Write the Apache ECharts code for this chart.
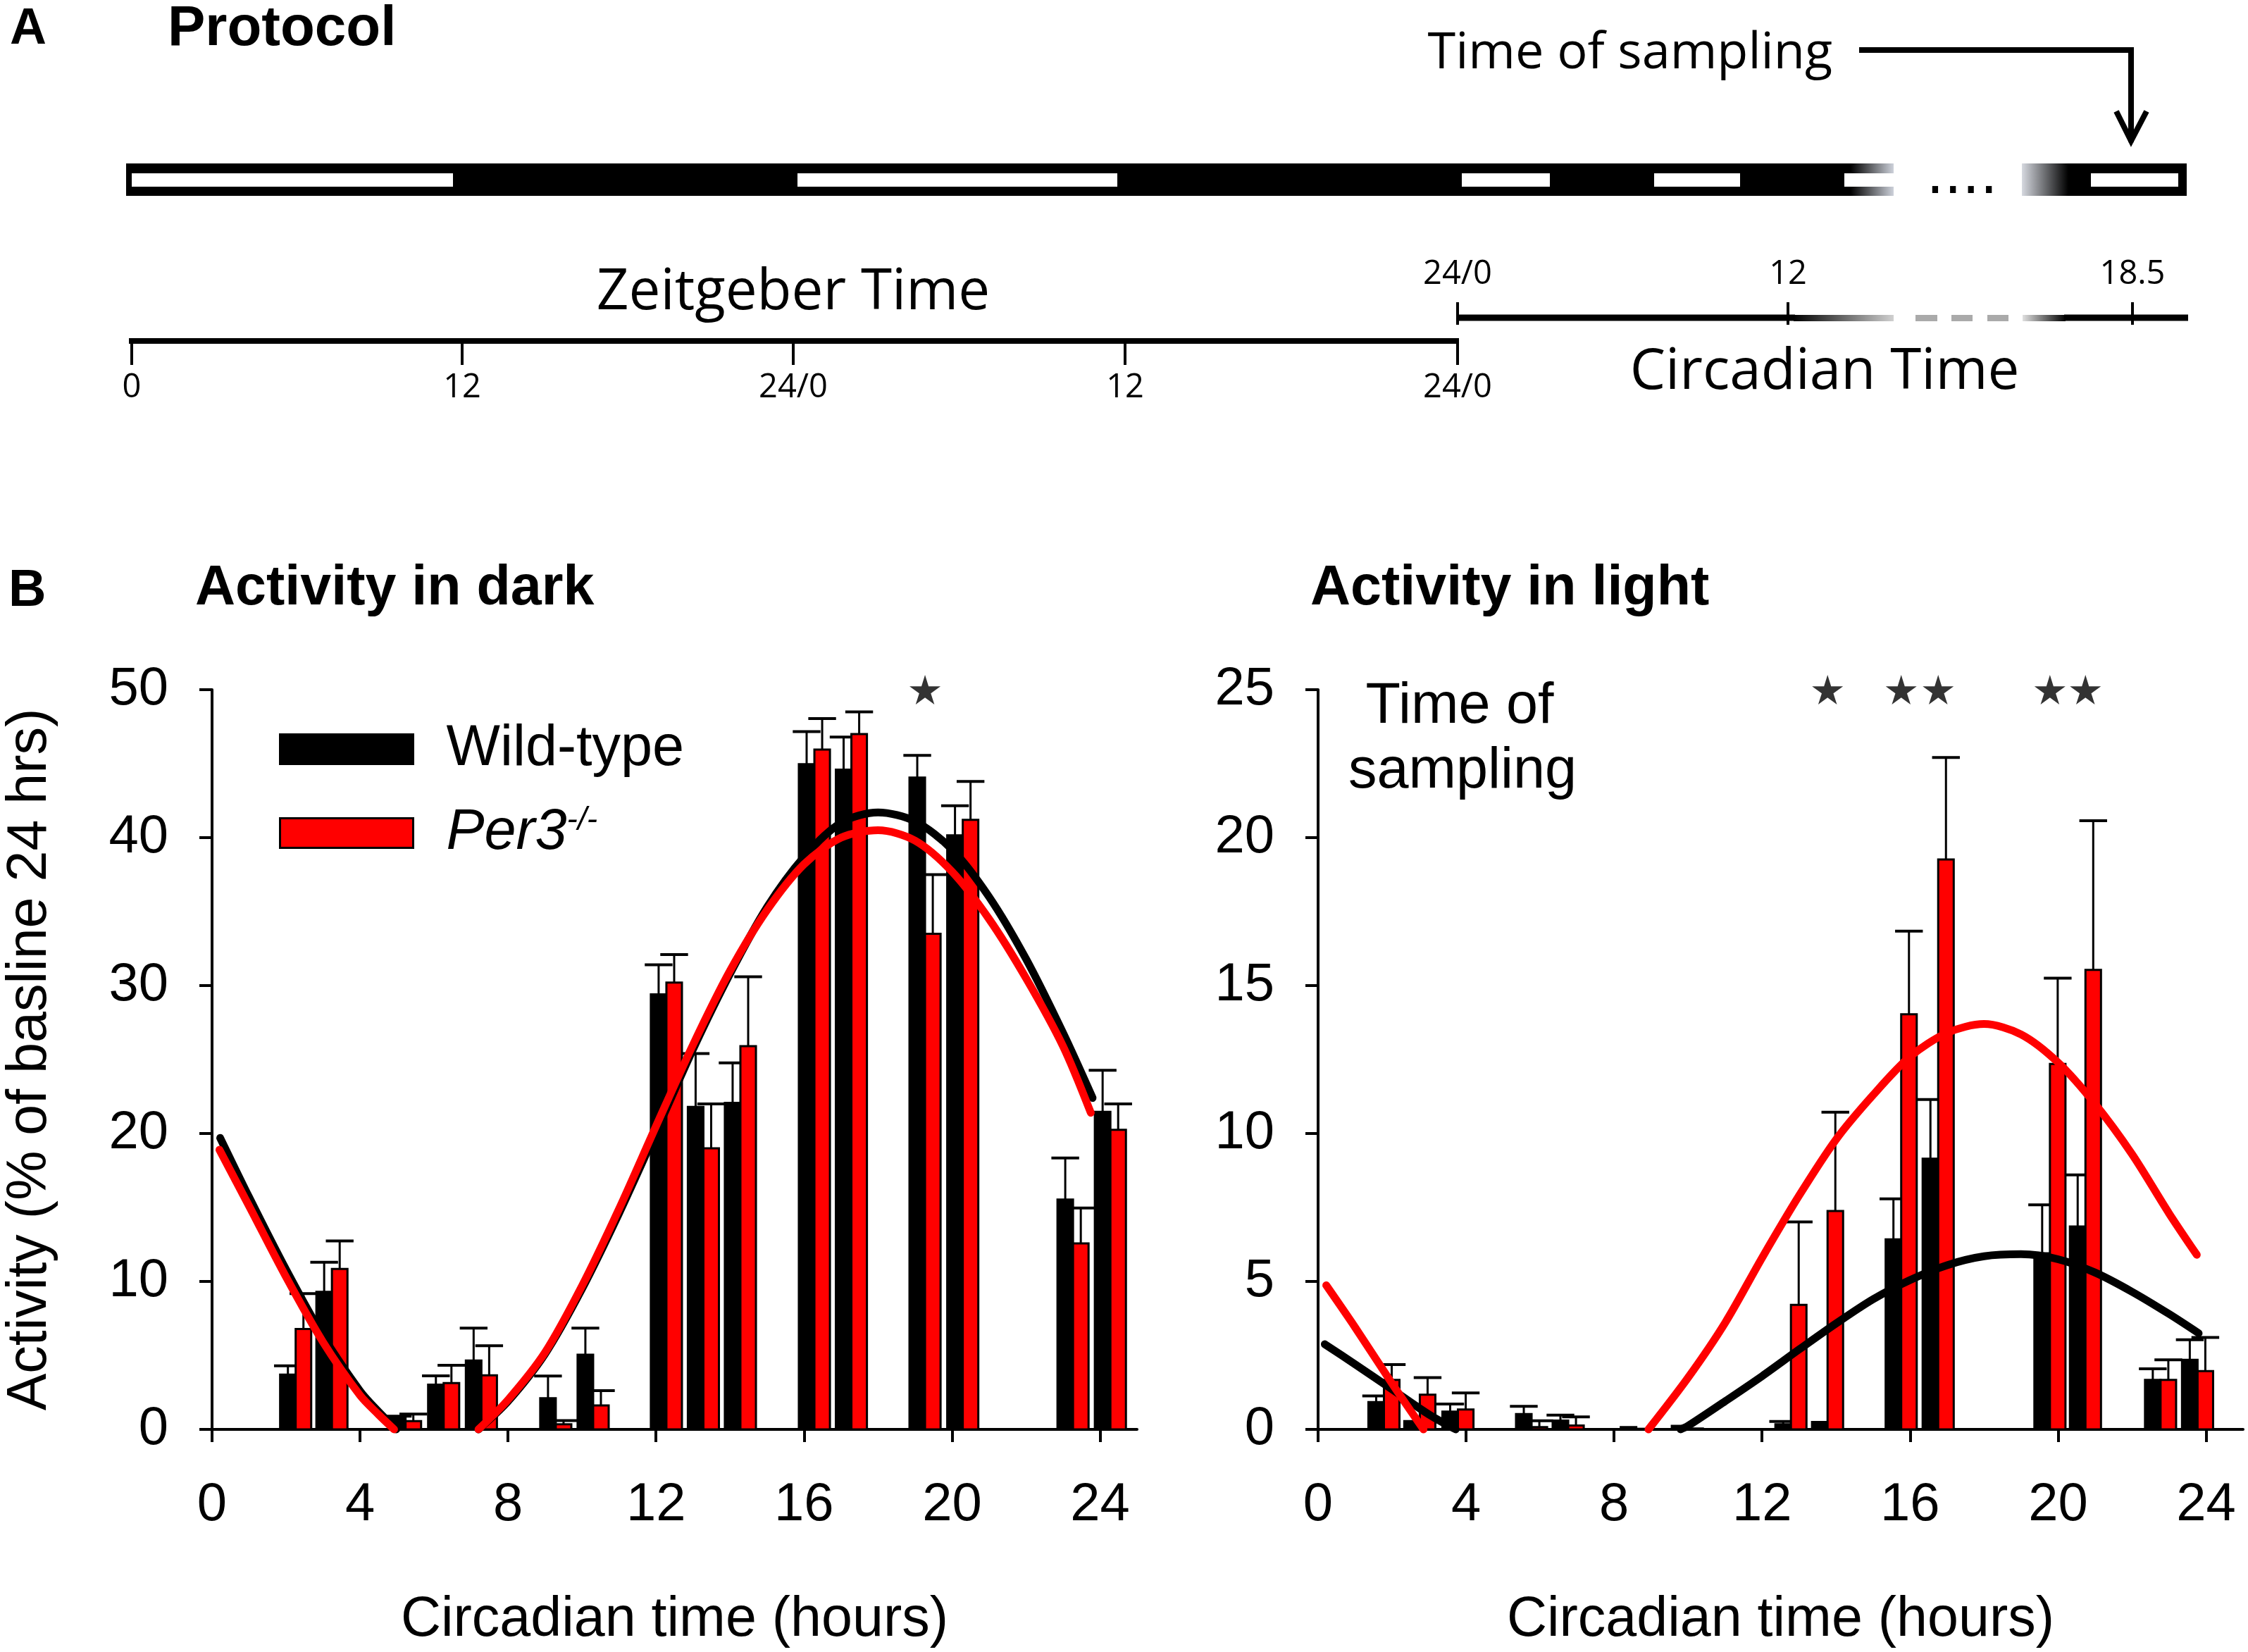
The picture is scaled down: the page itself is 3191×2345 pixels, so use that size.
<!DOCTYPE html>
<html>
<head>
<meta charset="utf-8">
<script src="https://cdn.jsdelivr.net/npm/echarts@6/dist/echarts.min.js"></script>
<style>
  html, body { margin: 0; background: #fff; }
  #chart { width: 3191px; height: 2345px; }
</style>
</head>
<body>
<div id="chart"></div>
<script>
// ---- data ----
const xTicks = [0, 4, 8, 12, 16, 20, 24];

// Activity in dark (group centre in circadian hours, % of baseline, upper SEM)
const darkHours = [2.26, 3.24, 5.23, 6.26, 7.28, 9.29, 10.3, 12.28, 13.28, 14.28, 16.28, 17.28, 19.27, 20.29, 23.27, 24.28];
const darkWt    = [3.7, 9.3, 0.79, 3.02, 4.65, 2.11, 5.05, 29.4, 21.8, 22.07, 44.97, 44.6, 44.06, 40.15, 15.54, 21.47];
const darkWtSem = [0.6, 2.0, 0.1, 0.6, 2.2, 1.5, 1.8, 2.0, 3.6, 2.7, 2.2, 2.2, 1.5, 2.0, 2.8, 2.8];
const darkKo    = [6.78, 10.84, 0.56, 3.13, 3.65, 0.35, 1.62, 30.2, 19.0, 25.9, 45.95, 47.0, 33.5, 41.2, 12.57, 20.25];
const darkKoSem = [2.4, 1.9, 0.47, 1.2, 2.0, 0.25, 1.0, 1.9, 3.0, 4.7, 2.1, 1.5, 4.0, 2.6, 2.4, 1.75];

// Activity in light
const lightHours = [1.78, 2.75, 3.78, 5.77, 6.76, 8.6, 9.98, 12.78, 13.77, 15.76, 16.76, 19.78, 20.74, 22.77, 23.77];
const lightWt    = [0.92, 0.28, 0.6, 0.52, 0.3, 0.08, 0.12, 0.17, 0.25, 6.42, 9.15, 5.95, 6.86, 1.67, 2.35];
const lightWtSem = [0.21, 0, 0.26, 0.26, 0.18, 0, 0, 0.1, 0, 1.37, 2.0, 1.64, 1.74, 0.38, 0.68];
const lightKo    = [1.67, 1.17, 0.67, 0.08, 0.13, 0.02, 0.03, 4.21, 7.38, 14.03, 19.26, 12.35, 15.53, 1.67, 1.97];
const lightKoSem = [0.52, 0.58, 0.56, 0.21, 0.29, 0, 0, 2.8, 3.34, 2.81, 3.45, 2.9, 5.04, 0.68, 1.14];

// fitted curves (null = part cut off below zero)
const darkWtFit = [[0.22, 19.7], [1, 15.7], [2, 10.8], [3, 6.3], [4, 2.6], [4.5, 1.2], [4.98, 0], null,
  [7.2, 0], [8, 1.9], [9, 5.1], [10, 9.5], [11, 14.6], [12, 20.1], [13, 25.7], [14, 30.8], [15, 35.3],
  [16, 38.7], [17, 41.0], [18, 41.7], [19, 41.1], [20, 39.2], [21, 36.0], [22, 31.8], [23, 26.8], [23.8, 22.4]];
const darkKoFit = [[0.2, 18.9], [1, 15.1], [2, 10.3], [3, 5.9], [4, 2.3], [4.5, 1.0], [4.92, 0], null,
  [7.2, 0], [8, 2.0], [9, 5.2], [10, 9.7], [11, 14.9], [12, 20.5], [13, 26.0], [14, 31.0], [15, 35.1],
  [16, 38.2], [17, 40.0], [18, 40.5], [19, 39.8], [20, 37.7], [21, 34.5], [22, 30.5], [23, 25.9], [23.75, 21.4]];
const lightWtFit = [[0.18, 2.88], [1, 2.2], [2, 1.35], [3, 0.5], [3.72, 0], null,
  [9.8, 0], [10, 0.12], [11, 0.95], [12, 1.8], [13, 2.7], [14, 3.58], [15, 4.4], [16, 5.05], [17, 5.55],
  [18, 5.85], [19, 5.92], [20, 5.75], [21, 5.3], [22, 4.65], [23, 3.9], [23.8, 3.25]];
const lightKoFit = [[0.22, 4.87], [1, 3.45], [2, 1.55], [2.85, 0], null,
  [8.93, 0], [10, 1.75], [11, 3.6], [12, 5.8], [13, 7.9], [14, 9.8], [15, 11.3], [16, 12.6], [17, 13.4],
  [18, 13.7], [19, 13.35], [20, 12.4], [21, 11.0], [22, 9.3], [23, 7.3], [23.75, 5.9]];

// significance stars
const darkStars = [19.27];
const lightStars = [13.77, 15.76, 16.76, 19.78, 20.74];

// protocol schematic tick labels
const zeitgeberLabels = ['0', '12', '24/0', '12', '24/0'];
const circadianLabels = ['24/0', '12', '18.5'];

// ---- helpers ----
const BAR_W = 0.42;   // hours
const CAP_W = 0.75;   // hours
const FONT = 'Liberation Sans, Arial, sans-serif';
const FONT_A = 'Open Sans, Noto Sans, sans-serif';
const RED = '#ff0000';

function barSeries(name, xi, hours, vals, sems, color, side) {
  return {
    type: 'custom',
    name: name,
    xAxisIndex: xi,
    yAxisIndex: xi,
    itemStyle: { color: color },
    clip: false,
    encode: { x: 0, y: 1 },
    data: hours.map((h, i) => [h, vals[i], sems[i]]),
    renderItem: function (params, api) {
      const h = api.value(0), v = api.value(1), e = api.value(2);
      const x0 = side === 'left' ? h - BAR_W : h;
      const xc = x0 + BAR_W / 2;
      const pTop = api.coord([x0, v]);
      const pBot = api.coord([x0 + BAR_W, 0]);
      const cTop = api.coord([xc, v]);
      const eTop = api.coord([xc, v + e]);
      const capW = api.size([CAP_W, 0])[0];
      const children = [];
      if (e > 0) {
        children.push({ type: 'line', shape: { x1: cTop[0], y1: cTop[1], x2: eTop[0], y2: eTop[1] },
          style: { stroke: '#000', lineWidth: 3 } });
        children.push({ type: 'line', shape: { x1: eTop[0] - capW / 2, y1: eTop[1], x2: eTop[0] + capW / 2, y2: eTop[1] },
          style: { stroke: '#000', lineWidth: 4 } });
      }
      children.push({ type: 'rect',
        shape: { x: pTop[0], y: pTop[1], width: pBot[0] - pTop[0], height: pBot[1] - pTop[1] },
        style: { fill: color, stroke: '#000', lineWidth: 3 } });
      return { type: 'group', children: children };
    }
  };
}

function fitSeries(name, xi, pts, color) {
  return {
    type: 'line',
    name: name,
    xAxisIndex: xi,
    yAxisIndex: xi,
    smooth: 0.3,
    showSymbol: false,
    connectNulls: false,
    clip: false,
    lineStyle: { color: color, width: 11, cap: 'round', join: 'round' },
    itemStyle: { color: color },
    data: pts.map(p => (p ? p : '-'))
  };
}

const starPath = 'path://M50,0 L61,35 L98,35 L68,57 L79,91 L50,70 L21,91 L32,57 L2,35 L39,35 Z';
function starSeries(xi, hours, yTop) {
  return {
    type: 'scatter',
    xAxisIndex: xi,
    yAxisIndex: xi,
    symbol: starPath,
    symbolSize: [44, 42],
    clip: false,
    silent: true,
    itemStyle: { color: '#000' },
    data: hours.map(h => [h, yTop])
  };
}

function xAxisOpt(gi) {
  return {
    type: 'value', gridIndex: gi, min: 0, max: 25,
    name: 'Circadian time (hours)', nameLocation: 'middle', nameGap: 232,
    nameTextStyle: { fontSize: 79, fontFamily: FONT, color: '#000' },
    axisLine: { lineStyle: { color: '#000', width: 4 } },
    axisTick: { customValues: xTicks, length: 18, lineStyle: { color: '#000', width: 4 } },
    axisLabel: { customValues: xTicks, fontSize: 76, fontFamily: FONT, color: '#000', margin: 70 },
    splitLine: { show: false }
  };
}

function yAxisOpt(gi, max, step, name) {
  return {
    type: 'value', gridIndex: gi, min: 0, max: max, interval: step,
    name: name, nameLocation: 'middle', nameGap: 218, nameRotate: 90,
    nameTextStyle: { fontSize: 79, fontFamily: FONT, color: '#000' },
    axisLine: { show: true, lineStyle: { color: '#000', width: 4 } },
    axisTick: { show: true, length: 18, lineStyle: { color: '#000', width: 4 } },
    axisLabel: { fontSize: 76, fontFamily: FONT, color: '#000', margin: 62 },
    splitLine: { show: false }
  };
}

// ---- protocol schematic (panel A) ----
function txt(x, y, text, size, opts) {
  opts = opts || {};
  return { type: 'text', x: x, y: y, silent: true,
    style: { text: text, fontSize: size, fontFamily: opts.family || FONT_A, fontWeight: opts.weight || 'normal',
      fill: '#000', align: opts.align || 'center', verticalAlign: opts.valign || 'middle' } };
}
function rect(x, y, w, h, fill) {
  return { type: 'rect', silent: true, shape: { x: x, y: y, width: w, height: h }, style: { fill: fill } };
}
function hline(x1, y1, x2, y2, w, color) {
  return { type: 'line', silent: true, shape: { x1: x1, y1: y1, x2: x2, y2: y2 },
    style: { stroke: color || '#000', lineWidth: w } };
}
function grad(c0, c1) {
  return new echarts.graphic.LinearGradient(0, 0, 1, 0, [{ offset: 0, color: c0 }, { offset: 1, color: c1 }]);
}

const zgX = [187, 656, 1126, 1597, 2069];
const ctX = [2069, 2538, 3027];

const graphics = [
  txt(14, 42, 'A', 72, { family: FONT, weight: 'bold', align: 'left' }),
  txt(238, 42, 'Protocol', 80, { family: FONT, weight: 'bold', align: 'left' }),
  txt(2601, 76, 'Time of sampling', 72, { align: 'right' }),
  // arrow
  hline(2639, 71, 3029, 71, 8),
  hline(3025, 67, 3025, 202, 8),
  { type: 'polyline', silent: true, shape: { points: [[3004, 158], [3025, 200], [3047, 158]] },
    style: { stroke: '#000', lineWidth: 8, fill: null } },
  // light/dark bar
  rect(179, 232, 2448, 46, '#000'),
  rect(2627, 232, 61, 46, grad('#000', '#cdd1da')),
  rect(2870, 232, 66, 46, grad('#d6d9e0', '#000')),
  rect(2936, 232, 168, 46, '#000'),
  rect(187, 246, 456, 19, '#fff'),
  rect(1132, 246, 454, 19, '#fff'),
  rect(2075, 246, 125, 19, '#fff'),
  rect(2348, 246, 122, 19, '#fff'),
  rect(2618, 246, 70, 19, '#fff'),
  rect(2968, 246, 124, 19, '#fff'),
  txt(2785, 293, '....', 80, { family: 'DejaVu Sans', valign: 'bottom' }),
  // zeitgeber axis
  hline(183, 484, 2071, 484, 8),
  txt(1126, 416, 'Zeitgeber Time', 80),
  // circadian axis
  hline(2069, 451, 2548, 451, 9),
  rect(2546, 447, 142, 9, grad('#000', '#d0d0d0')),
  rect(2719, 447, 31, 9, '#aaa'),
  rect(2770, 447, 30, 9, '#aaa'),
  rect(2821, 447, 30, 9, '#aaa'),
  rect(2871, 447, 61, 9, grad('#e0e0e0', '#000')),
  hline(2930, 451, 3106, 451, 9),
  txt(2590, 529, 'Circadian Time', 80),
  // panel B headings
  txt(12, 840, 'B', 74, { family: FONT, weight: 'bold', align: 'left' }),
  txt(277, 836, 'Activity in dark', 79, { family: FONT, weight: 'bold', align: 'left' }),
  txt(1860, 836, 'Activity in light', 79, { family: FONT, weight: 'bold', align: 'left' }),
  txt(2072, 1004, 'Time of', 81, { family: FONT }),
  txt(2076, 1096, 'sampling', 81, { family: FONT })
];
zgX.forEach((x, i) => {
  graphics.push(hline(x, 481, x, 518, 4));
  graphics.push(txt(x, 551, zeitgeberLabels[i], 47));
});
ctX.forEach((x, i) => {
  graphics.push(hline(x, 429, x, 461, 4));
  graphics.push(txt(x, 390, circadianLabels[i], 47));
});

// ---- chart ----
const chart = echarts.init(document.getElementById('chart'), null, { renderer: 'canvas' });

const option = {
  animation: false,
  backgroundColor: '#fff',
  grid: [
    { left: 301, top: 979, width: 1313, height: 1050 },
    { left: 1871, top: 979, width: 1313, height: 1050 }
  ],
  xAxis: [xAxisOpt(0), xAxisOpt(1)],
  yAxis: [yAxisOpt(0, 50, 10, 'Activity (% of basline 24 hrs)'), yAxisOpt(1, 25, 5, '')],
  legend: {
    left: 391, top: 1018, orient: 'vertical',
    itemWidth: 189, itemHeight: 42, itemGap: 38,
    icon: 'rect', selectedMode: false,
    data: ['Wild-type', 'Per3-/-'],
    itemStyle: { borderColor: '#000', borderWidth: 3 },
    formatter: function (name) {
      return name === 'Wild-type' ? '{n|Wild-type}' : '{i|Per3}{s|-/-}';
    },
    textStyle: {
      color: '#000',
      rich: {
        n: { fontSize: 81, fontFamily: FONT, lineHeight: 80, padding: [0, 0, 0, 42], color: '#000' },
        i: { fontSize: 81, fontFamily: FONT, fontStyle: 'italic', lineHeight: 80, padding: [0, 0, 0, 42], color: '#000' },
        s: { fontSize: 46, fontFamily: FONT, fontStyle: 'italic', lineHeight: 46, verticalAlign: 'top', color: '#000' }
      }
    }
  },
  graphic: graphics,
  series: [
    barSeries('Wild-type', 0, darkHours, darkWt, darkWtSem, '#000', 'left'),
    barSeries('Per3-/-', 0, darkHours, darkKo, darkKoSem, RED, 'right'),
    barSeries('Wild-type', 1, lightHours, lightWt, lightWtSem, '#000', 'left'),
    barSeries('Per3-/-', 1, lightHours, lightKo, lightKoSem, RED, 'right'),
    fitSeries('Wild-type', 0, darkWtFit, '#000'),
    fitSeries('Per3-/-', 0, darkKoFit, RED),
    fitSeries('Wild-type', 1, lightWtFit, '#000'),
    fitSeries('Per3-/-', 1, lightKoFit, RED),
    starSeries(0, darkStars, 50),
    starSeries(1, lightStars, 25)
  ]
};

chart.setOption(option);
</script>
</body>
</html>
